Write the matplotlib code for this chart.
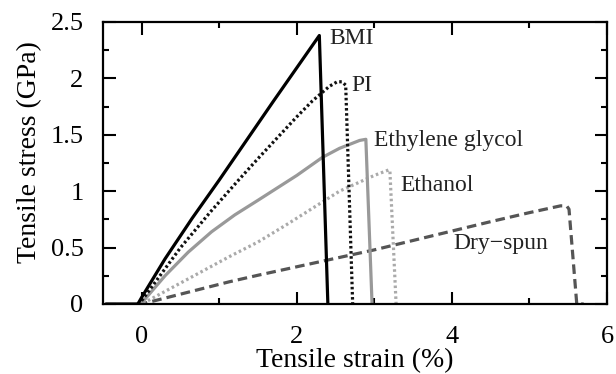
import matplotlib
matplotlib.use("Agg")
import matplotlib.pyplot as plt
from matplotlib.ticker import MultipleLocator

plt.rcParams['font.family'] = ['Liberation Serif', 'DejaVu Serif']

# Data (strain %, stress GPa)
bmi_x = [-0.45, -0.05, 0.0, 0.3, 0.65, 1.0, 1.7, 2.29, 2.40]
bmi_y = [0.0, 0.0, 0.06, 0.40, 0.76, 1.10, 1.80, 2.38, 0.0]

pi_x = [-0.05, 0.0, 0.5, 0.89, 1.25, 1.5, 2.0, 2.2, 2.42, 2.52, 2.58, 2.63, 2.72]
pi_y = [0.0, 0.03, 0.50, 0.82, 1.10, 1.29, 1.66, 1.80, 1.93, 1.97, 1.97, 1.94, 0.0]

eg_x = [-0.05, 0.0, 0.3, 0.6, 0.9, 1.2, 1.5, 2.0, 2.33, 2.55, 2.81, 2.89, 2.97]
eg_y = [0.0, 0.01, 0.25, 0.46, 0.64, 0.79, 0.92, 1.14, 1.30, 1.38, 1.45, 1.46, 0.0]

eth_x = [-0.05, 0.0, 1.13, 1.5, 1.86, 2.55, 3.0, 3.19, 3.20, 3.28]
eth_y = [0.0, 0.0, 0.42, 0.55, 0.70, 1.00, 1.14, 1.19, 1.18, 0.0]

dry_x = [-0.05, 0.0, 1.13, 1.5, 2.0, 3.0, 3.84, 4.5, 5.0, 5.4, 5.48, 5.51, 5.61, 5.70]
dry_y = [0.0, 0.0, 0.197, 0.255, 0.33, 0.48, 0.62, 0.73, 0.81, 0.87, 0.87, 0.84, 0.0, 0.0]

labels = ["BMI", "PI", "Ethylene glycol", "Ethanol", "Dry\u2212spun"]
label_x = [2.42, 2.70, 3.0, 3.33, 4.02]
label_y = [2.35, 1.94, 1.45, 1.05, 0.54]

fig = plt.figure(figsize=(6.16, 3.74), dpi=100)
ax = fig.add_axes([0.1672, 0.1872, 0.8182, 0.754])

ax.plot(dry_x, dry_y, color='#555555', lw=2.3, linestyle=(0, (3.0, 1.6)))
ax.plot(eth_x, eth_y, color='#aaaaaa', lw=2.3, linestyle=(0, (0.8, 0.9)))
ax.plot(eg_x, eg_y, color='#999999', lw=2.3)
ax.plot(pi_x, pi_y, color='#111111', lw=2.3, linestyle=(0, (0.8, 0.8)))
ax.plot(bmi_x, bmi_y, color='#000000', lw=2.3)

for t, x, y in zip(labels, label_x, label_y):
    ax.text(x, y, t, fontsize=17, color='#222222', va='center', ha='left')

ax.set_xlim(-0.5, 6)
ax.set_ylim(0, 2.5)
ax.xaxis.set_minor_locator(MultipleLocator(1))
ax.yaxis.set_minor_locator(MultipleLocator(0.25))
ax.set_yticks([0, 0.5, 1, 1.5, 2, 2.5])
ax.set_yticklabels(['0', '0.5', '1', '1.5', '2', '2.5'])
ax.set_xticks([0, 2, 4, 6])
ax.set_xticklabels(['0', '2', '4', '6'])
ax.tick_params(which='both', direction='in', top=True, right=True, width=1.5, labelsize=19, colors='black')
ax.tick_params(which='major', length=9)
ax.tick_params(axis='x', which='major', pad=16)
ax.tick_params(axis='y', which='major', pad=14)
ax.tick_params(which='minor', length=4.5)
for s in ax.spines.values():
    s.set_linewidth(1.6)

ax.set_xlabel('Tensile strain (%)', fontsize=20, labelpad=0)
ax.set_ylabel('Tensile stress (GPa)', fontsize=20, labelpad=2)
ax.yaxis.set_label_coords(-0.12, 0.54)

fig.savefig('out.png', dpi=100)
